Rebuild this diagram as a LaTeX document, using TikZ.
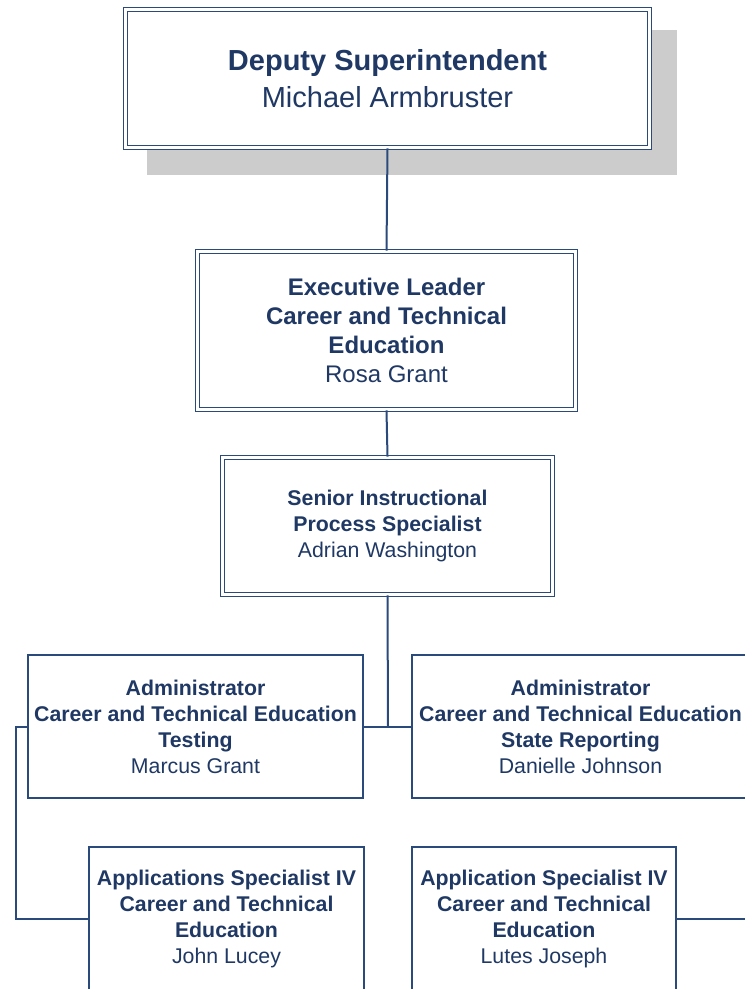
\documentclass[tikz,border=0pt]{standalone}
\usepackage{fontspec}
\setmainfont{Liberation Sans}
\definecolor{navy}{RGB}{31,56,100}
\definecolor{edgeblue}{RGB}{42,74,123}
\definecolor{shadowgray}{RGB}{204,204,204}
\begin{document}
\begin{tikzpicture}[x=1pt,y=1pt,
  dbox/.style={draw=edgeblue, double=white, double distance=2.2pt, line width=1.8pt,
    fill=white, inner sep=0pt, align=center, text=navy},
  sbox/.style={draw=edgeblue, line width=2.2pt, fill=white, inner sep=0pt,
    align=center, text=navy},
  link/.style={draw=edgeblue, line width=2pt},
  bigfont/.style={font={\fontsize{29}{37}\selectfont}},
  midfont/.style={font={\fontsize{24}{29}\selectfont}},
  smallfont/.style={font={\fontsize{21.3}{26}\selectfont}},
]
\useasboundingbox (0,0) rectangle (745,-989);
% shadow of top box
\fill[shadowgray] (147,-30) rectangle (677,-175);
% nodes
\node[dbox, bigfont, minimum width=524pt, minimum height=138pt] (top) at (387.5,-78.5)
  {\textbf{Deputy Superintendent}\\Michael Armbruster};
\node[dbox, midfont, minimum width=378pt, minimum height=158pt] (exec) at (386.5,-330.5)
  {\textbf{Executive Leader}\\\textbf{Career and Technical}\\\textbf{Education}\\Rosa Grant};
\node[dbox, smallfont, minimum width=330pt, minimum height=137pt] (senior) at (387.5,-526)
  {\textbf{Senior Instructional}\\\textbf{Process Specialist}\\Adrian Washington};
\node[sbox, smallfont, minimum width=335pt, minimum height=143pt] (admL) at (195.5,-726.5)
  {\textbf{Administrator}\\\textbf{Career and Technical Education}\\\textbf{Testing}\\Marcus Grant};
\node[sbox, smallfont, minimum width=337pt, minimum height=143pt] (admR) at (580.5,-726.5)
  {\textbf{Administrator}\\\textbf{Career and Technical Education}\\\textbf{State Reporting}\\Danielle Johnson};
\node[sbox, smallfont, minimum width=275pt, minimum height=144pt] (appL) at (226.5,-919)
  {\textbf{Applications Specialist IV}\\\textbf{Career and Technical}\\\textbf{Education}\\John Lucey};
\node[sbox, smallfont, minimum width=264pt, minimum height=144pt] (appR) at (544,-919)
  {\textbf{Application Specialist IV}\\\textbf{Career and Technical}\\\textbf{Education}\\Lutes Joseph};
% helper coordinates
\coordinate (jn) at (388,-726.5);
\coordinate (lbus) at (16,-726.5);
\coordinate (redge) at (748,-919);
% connectors
\draw[link] (top.south) -- (exec.north);
\draw[link] (exec.south) -- (senior.north);
\draw[link] (senior.south) -- (jn);
\draw[link] (admL.east) -- (admR.west);
\draw[link] (admL.west) -- (lbus) |- (appL.west);
\draw[link] (appR.east) -- (redge);
\end{tikzpicture}
\end{document}
